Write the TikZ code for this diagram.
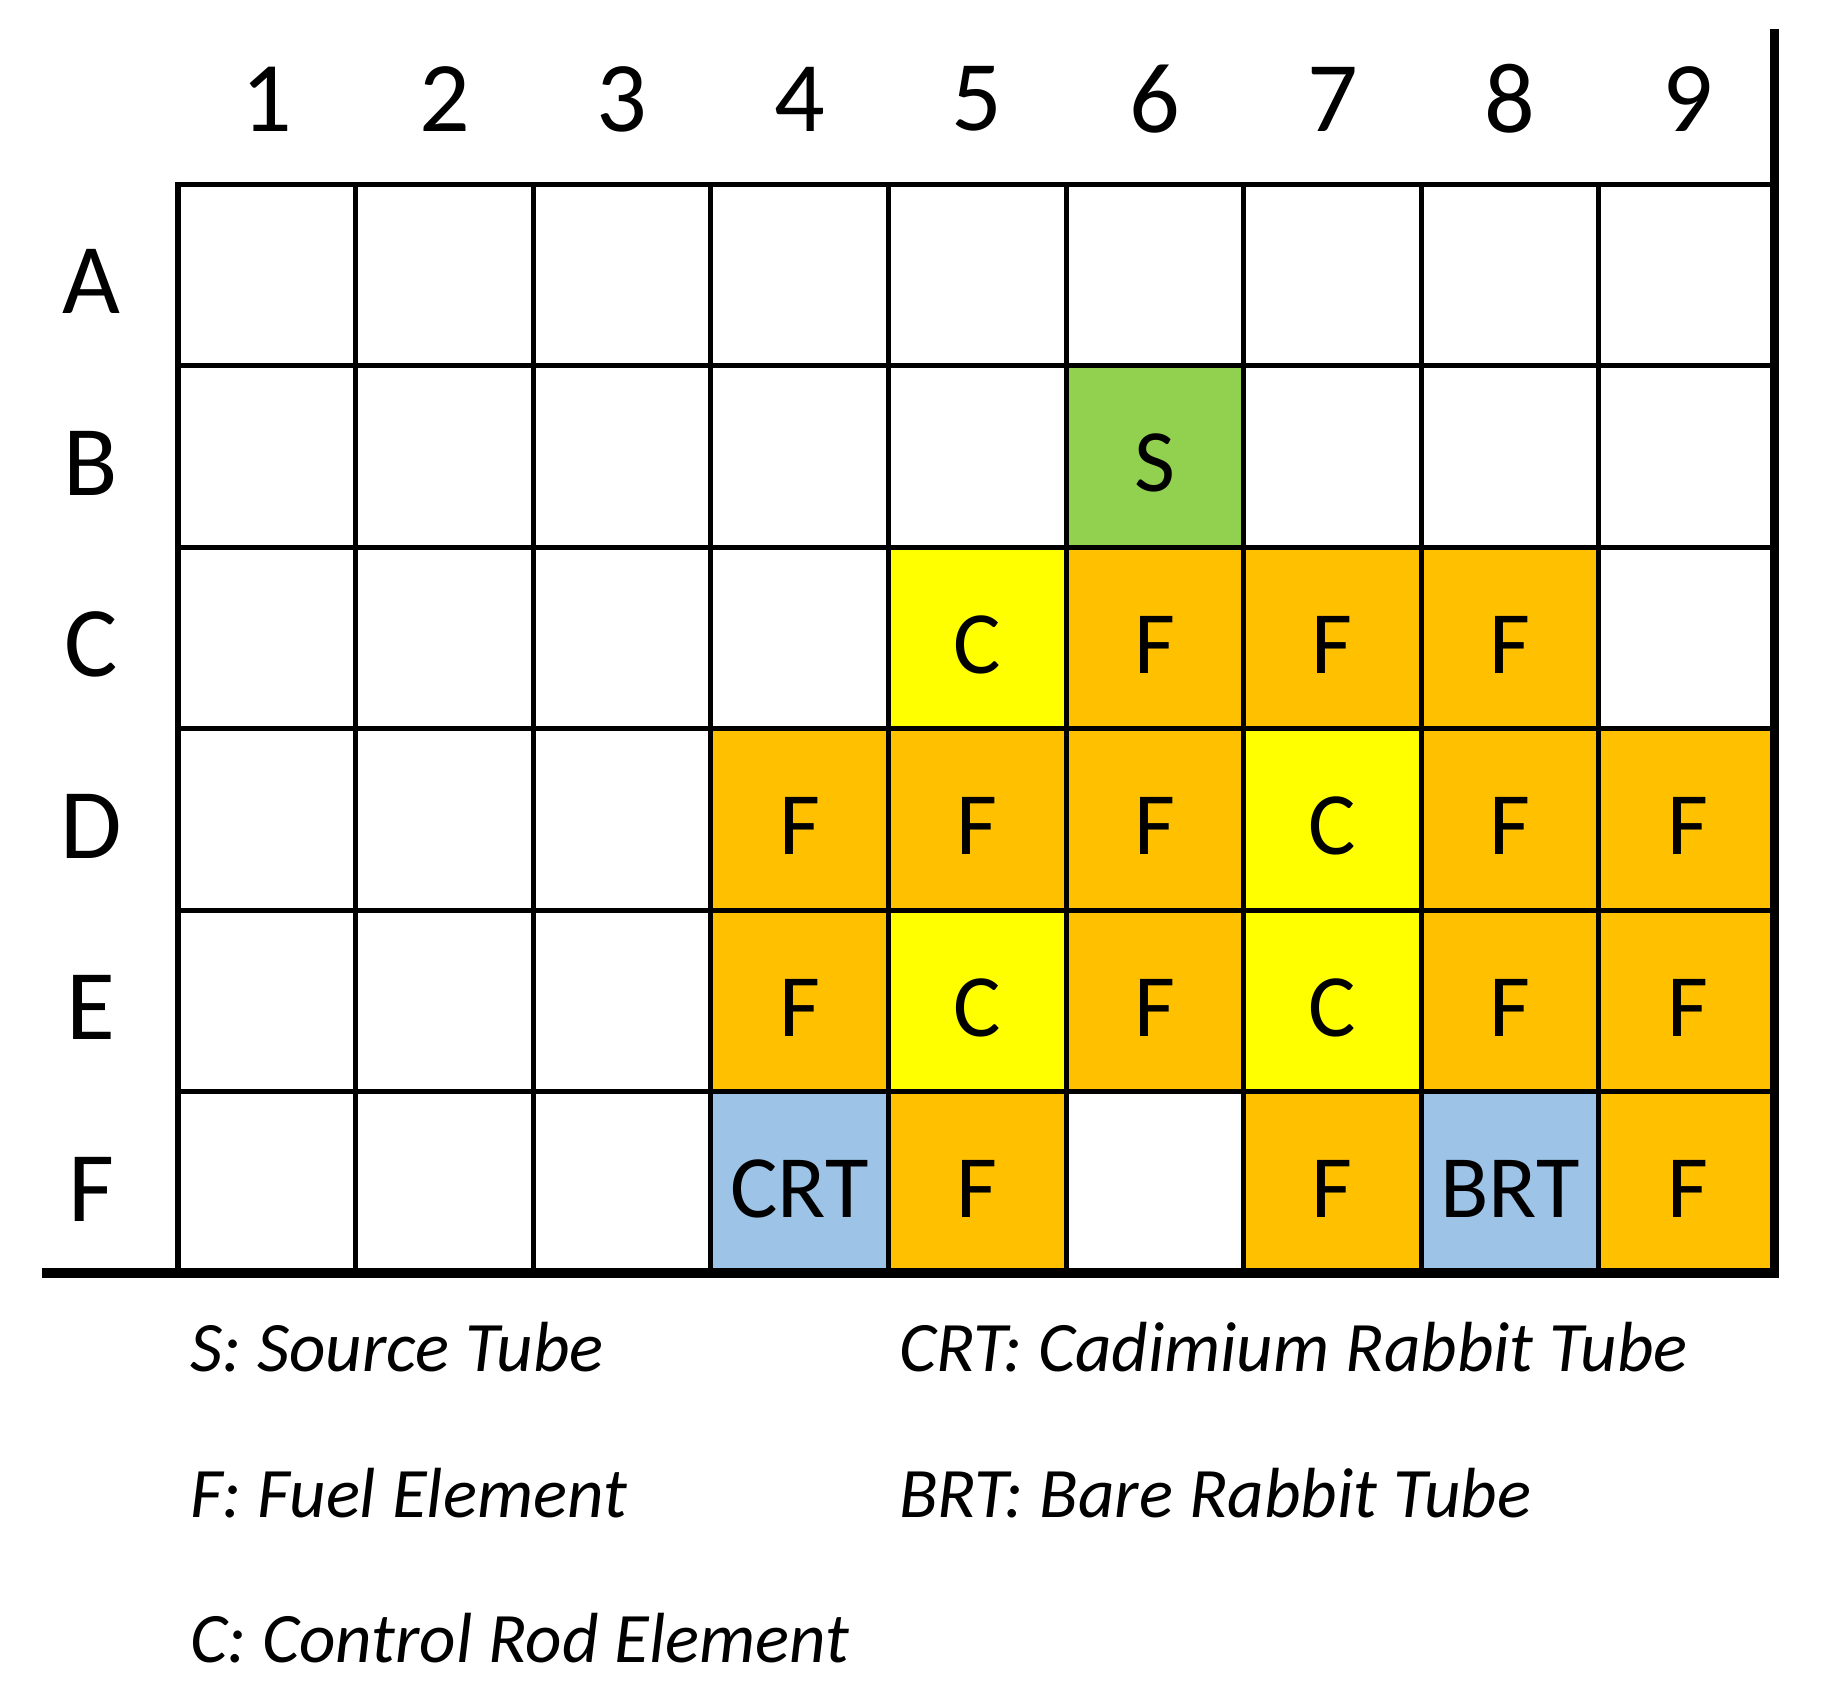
\documentclass[tikz,border=0pt]{standalone}
\usepackage{fontspec}
\setmainfont{Carlito}
\definecolor{fuel}{HTML}{FFC000}
\definecolor{ctrl}{HTML}{FFFF00}
\definecolor{src}{HTML}{92D050}
\definecolor{rab}{HTML}{9DC3E6}
\begin{document}
\begin{tikzpicture}[x=1pt,y=-1pt,
  cellbox/.style={rectangle, inner sep=0pt, minimum width=177.6pt, minimum height=181.5pt,
    font=\fontsize{89}{100}\selectfont, text height=71pt, text depth=0pt},
  gridline/.style={line width=5pt, black},
  hdr/.style={inner sep=0pt, font=\fontsize{100}{110}\selectfont},
  rowlbl/.style={inner sep=0pt, font=\fontsize{100}{110}\selectfont, text height=78pt, text depth=0pt},
  legend/.style={inner sep=0pt, anchor=base west, font=\fontsize{71}{80}\selectfont\itshape}]
\useasboundingbox (0,0) rectangle (1825,1700);
\fill[white] (0,0) rectangle (1825,1700);
% coloured cells
\foreach \r/\c/\t/\col in {2/6/S/src,
  3/5/C/ctrl, 3/6/F/fuel, 3/7/F/fuel, 3/8/F/fuel,
  4/4/F/fuel, 4/5/F/fuel, 4/6/F/fuel, 4/7/C/ctrl, 4/8/F/fuel, 4/9/F/fuel,
  5/4/F/fuel, 5/5/C/ctrl, 5/6/F/fuel, 5/7/C/ctrl, 5/8/F/fuel, 5/9/F/fuel,
  6/4/CRT/rab, 6/5/F/fuel, 6/7/F/fuel, 6/8/BRT/rab, 6/9/F/fuel}
  \node[cellbox, fill=\col] (cell-\r-\c) at ({178+(\c-0.5)*177.6},{184+(\r-0.5)*181.5}) {\t};
% grid
\foreach \i in {1,...,8}
  \draw[gridline] ({178+\i*177.6},184) -- ({178+\i*177.6},1273);
\foreach \j in {0,...,5}
  \draw[gridline] (178,{184+\j*181.5}) -- (1774,{184+\j*181.5});
\draw[line width=6pt] (178,181.5) -- (178,1273);
\draw[line width=9pt] (1774,29) -- (1774,1277.5);
\draw[line width=10pt] (42,1273) -- (1778.5,1273);
% column headers
\foreach \c in {1,...,9}
  \node[hdr] (col-\c) at ({178+(\c-0.5)*177.6},99) {\c};
% row labels
\foreach \r/\l in {1/A,2/B,3/C,4/D,5/E,6/F}
  \node[rowlbl] (row-\l) at (91,{184+(\r-0.5)*181.5}) {\l};
% legend
\node[legend] (leg-S) at (190,1371) {S: Source Tube};
\node[legend] (leg-F) at (190,1517) {F: Fuel Element};
\node[legend] (leg-C) at (190,1662) {C: Control Rod Element};
\node[legend] (leg-CRT) at (899,1371) {CRT: Cadimium Rabbit Tube};
\node[legend] (leg-BRT) at (899,1517) {BRT: Bare Rabbit Tube};
\end{tikzpicture}
\end{document}
